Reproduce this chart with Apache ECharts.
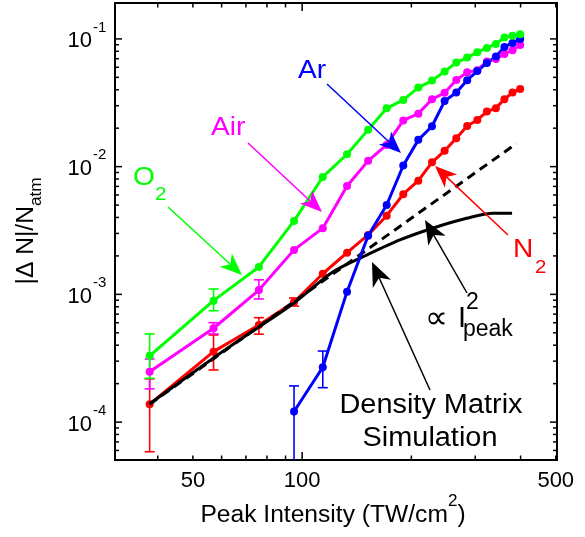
<!DOCTYPE html>
<html><head><meta charset="utf-8">
<script src="https://cdn.jsdelivr.net/npm/echarts@6/dist/echarts.min.js"></script>
<style>html,body{margin:0;padding:0;background:#fff}#c{width:585px;height:537px}</style>
</head><body><div id="c"></div>
<script>
// ---- data ----
const intensity = [38, 57, 76, 95, 114, 133, 152, 171, 190, 209, 228, 247, 266, 285, 304, 323, 342, 361, 380, 399];
const o2  = [3.30e-4, 8.93e-4, 1.64e-3, 3.76e-3, 8.30e-3, 1.25e-2, 1.94e-2, 2.86e-2, 3.33e-2, 4.16e-2, 4.72e-2, 5.55e-2, 6.52e-2, 7.14e-2, 7.87e-2, 8.50e-2, 9.14e-2, 0.1027, 0.1056, 0.1089];
const air = [2.48e-4, 5.43e-4, 1.08e-3, 2.23e-3, 3.30e-3, 7.06e-3, 1.11e-2, 1.48e-2, 2.30e-2, 2.60e-2, 3.37e-2, 3.78e-2, 4.77e-2, 5.47e-2, 5.69e-2, 6.64e-2, 6.95e-2, 7.63e-2, 8.16e-2, 8.97e-2];
const arIntensity = [95, 114, 133, 152, 171, 190, 209, 228, 247, 266, 285, 304, 323, 342, 361, 380, 399];
const ar  = [1.21e-4, 2.69e-4, 1.05e-3, 2.88e-3, 5.01e-3, 1.02e-2, 1.62e-2, 2.07e-2, 3.26e-2, 3.80e-2, 4.75e-2, 5.60e-2, 6.49e-2, 7.29e-2, 8.66e-2, 9.30e-2, 0.100];
const n2  = [1.38e-4, 3.56e-4, 5.76e-4, 8.72e-4, 1.45e-3, 2.12e-3, 2.92e-3, 4.13e-3, 6.08e-3, 7.77e-3, 1.08e-2, 1.33e-2, 1.67e-2, 2.08e-2, 2.32e-2, 2.70e-2, 2.87e-2, 3.37e-2, 3.80e-2, 4.06e-2];
const simIntensity = [38, 57, 76, 95, 122, 151, 186, 230, 284, 336, 379];
const simValue     = [1.39e-4, 3.18e-4, 5.56e-4, 8.57e-4, 1.51e-3, 2.04e-3, 2.67e-3, 3.31e-3, 3.94e-3, 4.32e-3, 4.32e-3];
const quadIntensity = [38, 390];
const quadValue     = [1.38e-4, 1.52e-2];
// error bars: [intensity, low, high]
const errO2  = [[38, 2.2e-4, 4.9e-4], [57, 7.45e-4, 1.10e-3]];
const errAir = [[38, 1.82e-4, 3.12e-4], [57, 4.9e-4, 6.0e-4], [76, 9.2e-4, 1.30e-3]];
const errN2  = [[38, 5.86e-5, 2.18e-4], [57, 2.56e-4, 4.81e-4], [76, 4.88e-4, 6.57e-4], [95, 8.1e-4, 9.37e-4]];
const errAr  = [[95, 3e-5, 1.92e-4], [114, 1.86e-4, 3.6e-4]];
// axes
const xMin = 30.5, xMax = 504, yMin = 5.05e-5, yMax = 0.191;
const xTickValues = [40, 50, 60, 70, 80, 90, 100, 200, 300, 400, 500];
const xMajorTicks = [100];
const xTickLabels = [50, 100, 500];
const yTickValues = [6e-5, 7e-5, 8e-5, 9e-5, 1e-4, 2e-4, 3e-4, 4e-4, 5e-4, 6e-4, 7e-4, 8e-4, 9e-4, 1e-3,
  2e-3, 3e-3, 4e-3, 5e-3, 6e-3, 7e-3, 8e-3, 9e-3, 1e-2, 2e-2, 3e-2, 4e-2, 5e-2, 6e-2, 7e-2, 8e-2, 9e-2, 1e-1];
const yMajorTicks = [1e-4, 1e-3, 1e-2, 1e-1];
const yTickLabels = [1e-4, 1e-3, 1e-2, 1e-1];
const yTickExponents = ['-4', '-3', '-2', '-1'];

const GREEN = '#00ff00', MAGENTA = '#ff00ff', BLUE = '#0000ff', RED = '#ff0000';
const FONT = 'Liberation Sans, Arial, sans-serif';

const pairs = (xs, ys) => xs.map((x, i) => [x, ys[i]]);

function errSeries(data, color) {
  return {
    type: 'custom', clip: true, z: 3,
    data: data, encode: { x: 0, y: [1, 2] },
    renderItem: function (params, api) {
      const x = api.value(0);
      const lo = api.coord([x, api.value(1)]);
      const hi = api.coord([x, api.value(2)]);
      const w = 5;
      const st = { stroke: color, lineWidth: 1.6 };
      return { type: 'group', children: [
        { type: 'line', shape: { x1: lo[0], y1: lo[1], x2: hi[0], y2: hi[1] }, style: st },
        { type: 'line', shape: { x1: lo[0] - w, y1: lo[1], x2: lo[0] + w, y2: lo[1] }, style: st },
        { type: 'line', shape: { x1: hi[0] - w, y1: hi[1], x2: hi[0] + w, y2: hi[1] }, style: st }
      ]};
    }
  };
}

function lineSeries(data, color, z) {
  return {
    type: 'line', data: data, z: z,
    symbol: 'circle', symbolSize: 8, showSymbol: true,
    lineStyle: { color: color, width: 3 }, itemStyle: { color: color },
    emphasis: { disabled: true }
  };
}

function arrow(x1, y1, x2, y2, color, L, W, lw) {
  const dx = x2 - x1, dy = y2 - y1, len = Math.hypot(dx, dy);
  const ux = dx / len, uy = dy / len, nx = -uy, ny = ux;
  const bx = x2 - ux * L, by = y2 - uy * L;
  const mx = x2 - ux * L * 0.72, my = y2 - uy * L * 0.72;
  return [
    { type: 'line', z: 100, shape: { x1: x1, y1: y1, x2: mx, y2: my }, style: { stroke: color, lineWidth: lw } },
    { type: 'polygon', z: 100, shape: { points: [[x2, y2], [bx + nx * W, by + ny * W], [mx, my], [bx - nx * W, by - ny * W]] }, style: { fill: color } }
  ];
}

function txt(text, x, y, size, color, align, sx, family) {
  return { type: 'text', z: 100, x: x, y: y, scaleX: sx || 1,
    style: { text: text, fontSize: size, fontFamily: family || FONT, fill: color, align: align || 'left', verticalAlign: 'middle' } };
}

const graphics = [].concat(
  txt('Ar', 298, 71, 26, BLUE, 'left', 1.08),
  arrow(327, 84, 401, 153, BLUE, 22, 9, 1.5),
  txt('Air', 211, 128, 26, MAGENTA, 'left', 1.08),
  arrow(248, 143, 322, 212, MAGENTA, 22, 9, 1.5),
  txt('O', 133, 178, 26, GREEN, 'left', 1.08),
  txt('2', 155, 195, 19, GREEN, 'left', 1.08),
  arrow(168, 207, 242, 275, GREEN, 22, 9, 1.5),
  txt('N', 513, 250, 26, RED, 'left', 1.08),
  txt('2', 535, 268, 19, RED, 'left', 1.08),
  arrow(508, 235, 435, 166, RED, 22, 9, 1.5),
  txt('\u221D', 425, 319, 32, '#000', 'left', 1.0),
  txt('I', 458, 319, 29, '#000', 'left', 1.0),
  txt('2', 466, 303, 23, '#000', 'left', 1.0),
  txt('peak', 463, 330, 23, '#000', 'left', 1.0),
  arrow(467, 293, 425, 220, '#000', 24, 10, 1.5),
  txt('Density Matrix', 431, 406, 27, '#000', 'center', 1.07),
  txt('Simulation', 430, 439, 27, '#000', 'center', 1.07),
  arrow(430, 390, 372, 262, '#000', 24, 10, 1.5),
  [{ type: 'text', z: 100, x: 333, y: 516, scaleX: 1.07,
     style: { text: '{a|Peak Intensity (TW/cm}{b|2}{a|)}', fontFamily: FONT, fill: '#000', align: 'center', verticalAlign: 'middle',
       rich: { a: { fontSize: 23, lineHeight: 44, fontFamily: FONT }, b: { fontSize: 16, lineHeight: 16, verticalAlign: 'top', fontFamily: FONT } } } },
   { type: 'text', z: 100, x: 27, y: 231, rotation: Math.PI / 2, scaleX: 1.07,
     style: { text: '{a||\u0394 N|/N}{b|atm}', fontFamily: FONT, fill: '#000', align: 'center', verticalAlign: 'middle',
       rich: { a: { fontSize: 23, lineHeight: 36, fontFamily: FONT }, b: { fontSize: 16, lineHeight: 16, verticalAlign: 'bottom', fontFamily: FONT } } } }]
);

const option = {
  animation: false,
  backgroundColor: '#fff',
  grid: { left: 115, right: 28, top: 3, bottom: 77, show: true, borderColor: '#000', borderWidth: 2, backgroundColor: 'transparent' },
  xAxis: { type: 'log', logBase: 10, min: xMin, max: xMax,
    axisLine: { show: false }, axisTick: { show: false }, axisLabel: { show: false }, splitLine: { show: false } },
  yAxis: { type: 'log', logBase: 10, min: yMin, max: yMax,
    axisLine: { show: false }, axisTick: { show: false }, axisLabel: { show: false }, splitLine: { show: false } },
  series: [
    { type: 'custom', clip: false, z: 10, silent: true,
      data: xTickValues.map(v => [v, yMin, xMajorTicks.includes(v) ? 1 : 0]), encode: { x: 0, y: 1 },
      renderItem: function (params, api) {
        const cs = params.coordSys; const x = api.coord([api.value(0), yMin])[0];
        const len = api.value(2) ? 8 : 4.5; const b = cs.y + cs.height, t = cs.y;
        const st = { stroke: '#000', lineWidth: 1.5 };
        return { type: 'group', children: [
          { type: 'line', shape: { x1: x, y1: b, x2: x, y2: b - len }, style: st },
          { type: 'line', shape: { x1: x, y1: t, x2: x, y2: t + len }, style: st } ] };
      } },
    { type: 'custom', clip: false, z: 10, silent: true,
      data: yTickValues.map(v => [xMin, v, yMajorTicks.includes(v) ? 1 : 0]), encode: { x: 0, y: 1 },
      renderItem: function (params, api) {
        const cs = params.coordSys; const y = api.coord([xMin, api.value(1)])[1];
        const len = api.value(2) ? 7 : 4; const l = cs.x, r = cs.x + cs.width;
        const st = { stroke: '#000', lineWidth: 1.5 };
        return { type: 'group', children: [
          { type: 'line', shape: { x1: l, y1: y, x2: l + len, y2: y }, style: st },
          { type: 'line', shape: { x1: r, y1: y, x2: r - len, y2: y }, style: st } ] };
      } },
    { type: 'custom', clip: false, z: 10, silent: true,
      data: xTickLabels.map(v => [v, yMin]), encode: { x: 0, y: 1 },
      renderItem: function (params, api) {
        const cs = params.coordSys; const x = api.coord([api.value(0), yMin])[0];
        return { type: 'text', x: x, y: cs.y + cs.height + 21,
          style: { text: String(xTickLabels[params.dataIndex]), fontSize: 22, fontFamily: FONT, fill: '#000', align: 'center', verticalAlign: 'middle' } };
      } },
    { type: 'custom', clip: false, z: 10, silent: true,
      data: yTickLabels.map(v => [xMin, v]), encode: { x: 0, y: 1 },
      renderItem: function (params, api) {
        const cs = params.coordSys; const y = api.coord([xMin, api.value(1)])[1];
        return { type: 'group', children: [
          { type: 'text', x: cs.x - 23, y: y + 2.5,
            style: { text: '10', fontSize: 22, fontFamily: FONT, fill: '#000', align: 'right', verticalAlign: 'middle' } },
          { type: 'text', x: cs.x - 22, y: y - 11.5,
            style: { text: yTickExponents[params.dataIndex], fontSize: 15, fontFamily: FONT, fill: '#000', align: 'left', verticalAlign: 'middle' } } ] };
      } },
    errSeries(errN2, RED),
    lineSeries(pairs(intensity, n2), RED, 2),
    { type: 'line', data: pairs(simIntensity, simValue), z: 4, smooth: 0.3, symbol: 'none',
      lineStyle: { color: '#000', width: 3 }, emphasis: { disabled: true } },
    { type: 'line', data: pairs(quadIntensity, quadValue), z: 4, symbol: 'none',
      lineStyle: { color: '#000', width: 3, type: [9, 6] }, emphasis: { disabled: true } },
    errSeries(errAir, MAGENTA),
    lineSeries(pairs(intensity, air), MAGENTA, 5),
    errSeries(errAr, BLUE),
    lineSeries(pairs(arIntensity, ar), BLUE, 5),
    errSeries(errO2, GREEN),
    lineSeries(pairs(intensity, o2), GREEN, 5)
  ],
  graphic: graphics
};

const chart = echarts.init(document.getElementById('c'), null, { renderer: 'canvas' });
chart.setOption(option);
</script>
</body></html>
